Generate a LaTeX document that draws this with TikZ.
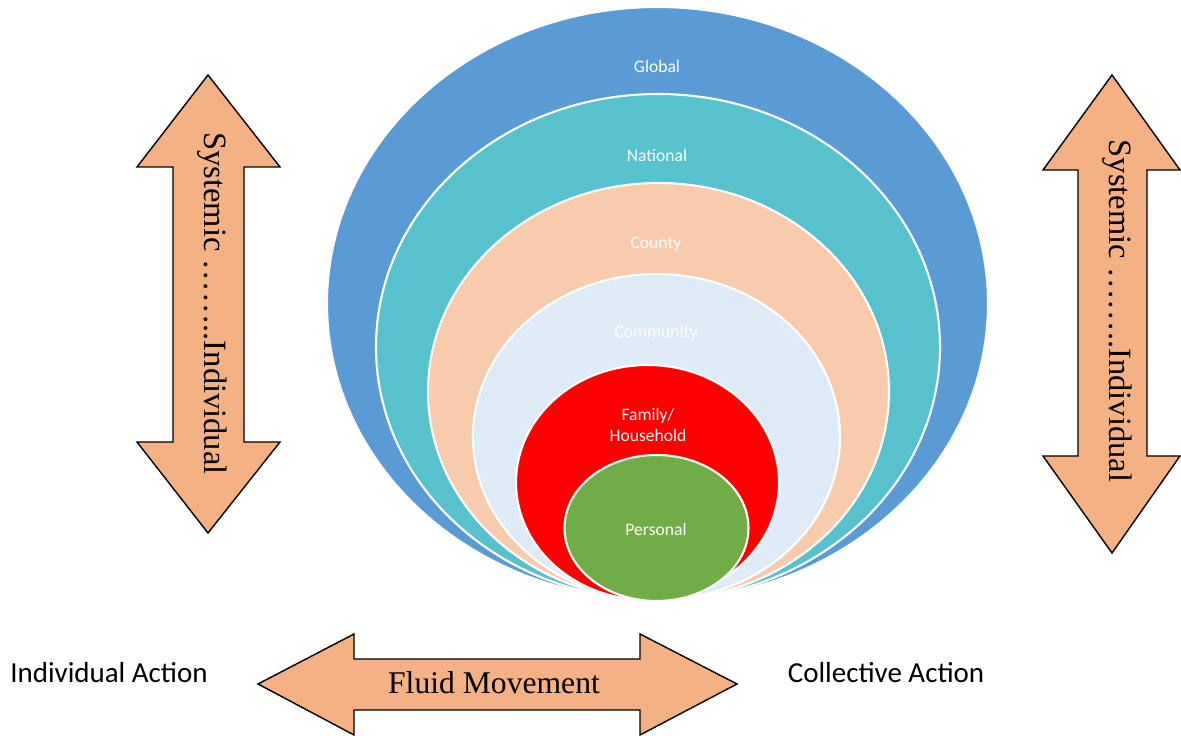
\documentclass[tikz,border=0pt]{standalone}
\usepackage{fontspec}
\setmainfont{Liberation Serif}
\newfontfamily\calibri{Carlito}
\definecolor{globalblue}{HTML}{5B9BD5}
\definecolor{nationalaqua}{HTML}{57C1CE}
\definecolor{countypeach}{HTML}{F8CBAD}
\definecolor{communitysky}{HTML}{DEEBF7}
\definecolor{familyred}{HTML}{FF0000}
\definecolor{personalgreen}{HTML}{70AD47}
\definecolor{arrowfill}{HTML}{F4B183}

\begin{document}
\begin{tikzpicture}[x=0.02cm, y=-0.02cm,
	ring/.style={draw=white, line width=1.2pt},
	ringlabel/.style={font=\calibri\fontsize{10}{12}\selectfont, text=white, align=center},
	bigarrow/.style={draw=black, fill=arrowfill, line width=0.8pt, line join=miter},
	arrowtext/.style={font=\fontsize{18}{20}\selectfont},
	sidetext/.style={font=\calibri\fontsize{16.5}{19}\selectfont, anchor=base}]
			%%%%% START %%%%%
			
			\useasboundingbox[fill=white] (0, 0) rectangle (1181, 736);
			
			% nested levels, all resting on the same bottom point
			\draw[ring, fill=globalblue] (657.5, 303.5) ellipse [x radius=330.5, y radius=296.5];
			\draw[ring, fill=nationalaqua] (658, 347) ellipse [x radius=282, y radius=253];
			\draw[ring, fill=countypeach] (658.5, 391.5) ellipse [x radius=230.5, y radius=208.5];
			\draw[ring, fill=communitysky] (656.5, 437) ellipse [x radius=183.5, y radius=163];
			\draw[ring, fill=familyred] (647.5, 482.5) ellipse [x radius=131.5, y radius=117.5];
			\draw[ring, fill=personalgreen] (656.5, 528) ellipse [x radius=92, y radius=73];
			
			\node[ringlabel] (global) at (657, 66) {Global};
			\node[ringlabel] (national) at (657, 155) {National};
			\node[ringlabel] (county) at (656, 244) {County};
			\node[ringlabel] (community) at (656, 333) {Community};
			\node[ringlabel] (family) at (648, 425) {Family/\\Household};
			\node[ringlabel] (personal) at (656, 529) {Personal};
			
			% left up/down arrow
			\draw[bigarrow] (208, 75) -- (280, 167) -- (244, 167) -- (244, 442) -- (280, 442)
				-- (208, 533) -- (137, 442) -- (173, 442) -- (173, 167) -- (137, 167) -- cycle;
			\node[arrowtext, font=\fontsize{18.5}{20}\selectfont, rotate=-90, anchor=mid] (leftscale) at (209, 303.5) {Systemic ……..Individual};
			
			% right up/down arrow
			\draw[bigarrow] (1112, 75) -- (1180, 170) -- (1147, 170) -- (1147, 456) -- (1180, 456)
				-- (1112, 553) -- (1043, 456) -- (1078, 456) -- (1078, 170) -- (1043, 170) -- cycle;
			\node[arrowtext, font=\fontsize{18.5}{20}\selectfont, rotate=-90, anchor=mid] (rightscale) at (1114, 311) {Systemic ……..Individual};
			
			% bottom left/right arrow
			\draw[bigarrow] (258, 684) -- (354, 634) -- (354, 659) -- (640, 659) -- (640, 634)
				-- (737, 684) -- (640, 735) -- (640, 710) -- (354, 710) -- (354, 735) -- cycle;
			\node[arrowtext, anchor=base] (fluid) at (494, 694) {Fluid Movement};
			
			\node[sidetext] (individual) at (109, 683) {Individual Action};
			\node[sidetext] (collective) at (886, 683) {Collective Action};
			
			%%%%% END %%%%%
		\end{tikzpicture}
\end{document}
